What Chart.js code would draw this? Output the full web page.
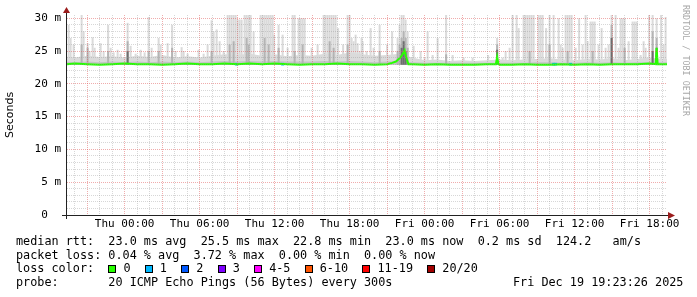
<!DOCTYPE html>
<html>
<head>
<meta charset="utf-8">
<script src="https://cdn.jsdelivr.net/npm/chart.js@4.4.1/dist/chart.umd.min.js"></script>
<style>
  html, body { margin: 0; padding: 0; background: #fff; }
  #wrap { position: relative; width: 697px; height: 297px; overflow: hidden; }
  #legend {
    position: absolute; left: 16px; top: 235px;
    font: 11.8px "DejaVu Sans Mono", monospace; line-height: 13.7px;
    white-space: pre; color: #000;
  }
  .box { display: inline-block; width: 6px; height: 6px; border: 1px solid #000; vertical-align: middle; }
  #stamp {
    position: absolute; left: 513px; top: 276px;
    font: 11.8px "DejaVu Sans Mono", monospace; line-height: 13.7px;
    white-space: pre; color: #000;
  }
  #credit {
    position: absolute; left: 681px; top: 5px;
    writing-mode: vertical-rl; line-height: 10px;
    font: 8.4px "DejaVu Sans Mono", monospace; color: #a8a8a8;
    white-space: pre;
  }
</style>
</head>
<body>
<div id="wrap">
  <canvas id="chart" width="697" height="297"></canvas>
  <div id="legend">median rtt:  23.0 ms avg  25.5 ms max  22.8 ms min  23.0 ms now  0.2 ms sd  124.2   am/s
packet loss: 0.04 % avg  3.72 % max  0.00 % min  0.00 % now
<span id="lossRow">loss color:  </span>
probe:       20 ICMP Echo Pings (56 Bytes) every 300s</div>
  <div id="stamp">Fri Dec 19 19:23:26 2025</div>
  <div id="credit">RRDTOOL / TOBI OETIKER</div>
</div>
<script>
// time axis in hours relative to Thu 00:00 (window ends Fri 19:23:26)
const xStartHour = -4.61;
const xEndHour = 43.39;
const xTickHours = [0, 6, 12, 18, 24, 30, 36, 42];
const xTickLabels = ['Thu 00:00', 'Thu 06:00', 'Thu 12:00', 'Thu 18:00',
                     'Fri 00:00', 'Fri 06:00', 'Fri 12:00', 'Fri 18:00'];

// y axis in ms
const yMax = 30.5;
const yTickValues = [0, 5, 10, 15, 20, 25, 30];
const yTickLabels = ['0  ', '5 m', '10 m', '15 m', '20 m', '25 m', '30 m'];

const lossLabels = ['0', '1', '2', '3', '4-5', '6-10', '11-19', '20/20'];
const lossColors = ['#26ff00', '#00b8ff', '#0059ff', '#7e00ff', '#ff00ff', '#ff5500', '#ff0000', '#a10000'];

// median rtt
const medianHour = [-4.61, -4, -3, -2, -1, 0, 1, 2, 3, 4, 5, 6, 7, 8, 9, 10, 11, 12, 13, 14, 15, 16, 17, 18, 19, 20, 21,
  21.4, 21.7, 22.0, 22.2, 22.4, 22.5, 22.7, 23, 24, 25, 26, 27, 28, 29, 29.7, 29.8, 29.9, 30, 31, 32, 33, 34, 35,
  36, 37, 38, 39, 40, 41, 42, 42.48, 42.56, 42.64, 43, 43.39];
const medianMs = [23.0, 23.1, 23.0, 22.9, 23.0, 23.1, 23.0, 23.0, 22.9, 23.0, 23.1, 23.0, 23.0, 23.1, 23.0, 23.1, 23.0, 23.1, 23.0, 22.9, 23.0, 23.0, 23.1, 23.0, 23.0, 22.9, 23.0,
  23.2, 23.4, 23.9, 24.4, 25.1, 24.2, 23.0, 23.0, 22.9, 23.0, 22.9, 22.9, 22.9, 23.0, 23.0, 24.1, 23.0, 22.9, 22.9, 23.0, 22.9, 22.9, 23.0,
  22.9, 23.0, 22.9, 23.0, 23.0, 23.0, 23.1, 23.0, 25.5, 23.0, 23.0, 23.0];

// pings with loss (legend level index)
const lossHour = [8.96, 12.64, 34.32, 34.48, 35.68];
const lossLevel = [1, 1, 1, 1, 1];

// smoke: min ping floor, light band above the median
const smokeFloor = 22.9;
const bandHour = [-5, -4, -3, -2, -1, 0, 1, 2, 3, 4, 5, 6, 7, 8, 9, 10, 11, 12, 13, 14, 15, 16, 17, 18, 19, 20,
  21, 22, 23, 24, 25, 26, 27, 28, 29, 30, 31, 32, 33, 34, 35, 36, 37, 38, 39, 40, 41, 42, 43, 44];
const bandTopMs = [24.2, 24.0, 24.3, 24.1, 24.2, 24.0, 24.3, 24.1, 24.4, 24.0, 24.2, 24.0, 24.3, 24.5, 24.4, 24.6,
  24.3, 24.5, 24.2, 24.4, 24.3, 24.6, 24.4, 24.8, 24.5, 24.3, 24.4, 24.6, 24.0, 23.6, 23.7, 23.5, 23.6, 23.5,
  23.6, 23.7, 23.6, 23.7, 23.8, 23.9, 23.7, 23.6, 23.8, 23.7, 23.9, 23.6, 23.8, 24.0, 23.8, 23.8];
const bandCoreMs = [23.4, 23.3, 23.4, 23.3, 23.4, 23.3, 23.4, 23.3, 23.4, 23.3, 23.4, 23.3, 23.4, 23.5, 23.4, 23.5,
  23.4, 23.5, 23.4, 23.4, 23.4, 23.5, 23.4, 23.5, 23.4, 23.3, 23.4, 23.5, 23.3, 23.2, 23.2, 23.2, 23.2, 23.2,
  23.2, 23.2, 23.2, 23.2, 23.3, 23.3, 23.2, 23.2, 23.3, 23.2, 23.3, 23.2, 23.3, 23.3, 23.3, 23.3];

// smoke spikes: highest ping of the step
const spikeHour = [-4.48, -4.32, -4.08, -3.44, -3.28, -2.96, -2.80, -2.56, -2.40, -1.92, -1.68, -1.32, -1.12, -0.88,
  -0.56, -0.32, 0.24, 0.48, 0.88, 1.28, 1.60, 1.92, 2.16, 2.72, 2.88, 3.44, 3.80, 4.08, 4.56, 4.72, 5.04, 5.92,
  6.32, 6.64, 6.96, 7.12, 7.36, 7.60, 7.92, 8.24, 8.40, 8.56, 8.72, 8.88, 9.04, 9.20, 9.36, 9.60, 9.76, 9.92,
  10.08, 10.32, 10.88, 11.04, 11.20, 11.36, 11.52, 11.68, 11.84, 11.96, 12.32, 12.64, 13.04, 13.44, 13.60,
  13.92, 14.08, 14.24, 14.40, 14.96, 15.44, 15.92, 16.08, 16.24, 16.40, 16.56, 16.72, 16.88, 17.08, 17.48,
  17.84, 18.00, 18.16, 18.32, 18.48, 18.64, 18.80, 18.96, 19.04, 19.36, 19.68, 19.92, 20.40, 21.00, 21.40,
  21.84, 22.00, 22.16, 22.32, 22.48, 22.64, 23.12, 23.68, 24.00, 24.24, 24.64, 25.04, 25.72, 26.24, 27.12,
  27.84, 29.08, 29.80, 30.24, 30.48, 30.80, 31.04, 31.36, 31.52, 31.92, 32.08, 32.24, 32.40, 32.56, 32.72,
  33.12, 33.28, 33.44, 33.72, 33.92, 34.00, 34.32, 34.72, 34.88, 35.04, 35.28, 35.44, 35.60, 35.76, 36.08,
  36.36, 36.64, 36.88, 37.04, 37.28, 37.44, 37.60, 37.92, 38.16, 38.48, 38.72, 38.96, 39.28, 39.52, 39.68,
  39.84, 40.00, 40.32, 40.64, 40.80, 40.96, 41.28, 41.52, 41.68, 41.96, 42.24, 42.56, 42.92, 43.12, 43.28];
const spikeTopMs = [29, 27, 26, 30.5, 28, 26.2, 25, 27.1, 25.5, 26.2, 25, 29, 25.5, 24.8,
  25.2, 24.6, 29.3, 25.8, 24.6, 25.2, 24.8, 30.2, 25.5, 27, 26, 26.2, 29, 25, 25.6, 25, 24.6, 25.2,
  24.6, 26, 29.7, 28, 28.3, 26.5, 25, 30.5, 30.5, 30.5, 30.5, 30.5, 29.8, 29.8, 29.8, 30.5, 30.5, 30.5,
  30.5, 28, 30.5, 30.5, 30.5, 30.5, 30.5, 30.5, 30.5, 27.5, 29, 27.5, 25.5, 30.5, 30.5,
  30, 30, 30, 30, 25.5, 26, 30.5, 30.5, 30.5, 30.5, 30.5, 30.5, 30.5, 28.5, 26,
  30.5, 30.5, 27, 26.5, 27.5, 26.2, 25, 27, 26.5, 25, 28.5, 25.5, 29, 26, 28,
  27, 29, 30.5, 30.5, 29.8, 28, 25.8, 25, 24, 28, 24.4, 27, 30.5, 24.4, 24,
  24, 24.4, 27, 24, 25, 25.5, 30.6, 30.5, 28.5, 30.5, 30.5, 30.5, 30.5, 30.5, 30.5,
  30.5, 30.5, 30.5, 28.5, 26, 30.5, 30.5, 30, 26, 25.5, 30.5, 30.5, 30.5, 30.5, 25.5,
  30, 26, 30.5, 26.5, 29.5, 29.5, 29.5, 26, 28.5, 25.5, 26, 30.6, 30.5, 25.5, 30,
  30, 30, 26.5, 29.5, 29.5, 29.5, 24.4, 26.5, 25.5, 30.6, 30.5, 30, 30.5, 26, 30.2];

// denser part of the smoke (mid grey)
const coreHour = [-3.44, -2.96, -1.32, 0.24, 1.92, 2.72, 3.80, 6.96, 8.40, 8.72, 9.76, 9.92, 11.20, 11.52, 12.32,
  13.60, 14.24, 16.40, 16.72, 17.84, 20.40, 21.84, 22.00, 22.16, 22.32, 22.48, 22.64, 25.72, 29.80, 32.40,
  34.00, 35.44, 37.44, 38.96, 40.00, 42.24, 42.56];
const coreTopMs = [26, 25.5, 25, 26.5, 25, 25, 25.5, 25, 26, 26.5, 27, 26, 27, 26, 25.5,
  25, 26, 26.5, 25.5, 26, 25, 25, 26, 27, 28, 27, 25.5, 24.5, 26, 25,
  26, 25, 25, 29, 25.5, 28, 27];

// darkest part of the smoke
const darkHour = [0.24, 22.16, 22.32, 22.48, 29.80, 38.96, 42.24, 42.56];
const darkTopMs = [25, 25.5, 26.5, 25, 25.2, 27, 25, 25.5];

const minorGrid = 'rgba(150,150,150,0.38)';
const majorGrid = 'rgba(225,90,90,0.5)';
const tickFont = { family: 'DejaVu Sans Mono', size: 11 };

// legend colour boxes
const lossRow = document.getElementById('lossRow');
lossLabels.forEach((lab, i) => {
  const b = document.createElement('span');
  b.className = 'box';
  b.style.background = lossColors[i];
  lossRow.appendChild(b);
  lossRow.appendChild(document.createTextNode(' ' + lab + '  '));
});

const pts = (xs, ys) => xs.map((x, i) => ({ x: x, y: ys[i] }));
const bars = (xs, tops) => xs.map((x, i) => ({ x: x, y: [smokeFloor, tops[i]] }));

// axis lines with arrows, drawn on top like rrdtool does
const axisArrows = {
  id: 'axisArrows',
  afterDraw(chart) {
    const { ctx, chartArea: a } = chart;
    const yb = Math.round(a.bottom) + 0.5;
    const xl = Math.round(a.left) - 0.5;
    ctx.save();
    ctx.strokeStyle = '#222';
    ctx.lineWidth = 1;
    ctx.beginPath();
    ctx.moveTo(a.left - 5, yb);
    ctx.lineTo(a.right + 3, yb);
    ctx.moveTo(xl, a.bottom + 4);
    ctx.lineTo(xl, a.top - 4);
    ctx.stroke();
    ctx.fillStyle = '#9b1c1c';
    ctx.beginPath();
    ctx.moveTo(a.right + 8, yb);
    ctx.lineTo(a.right + 1, yb - 3.5);
    ctx.lineTo(a.right + 1, yb + 3.5);
    ctx.closePath();
    ctx.fill();
    ctx.beginPath();
    ctx.moveTo(xl, a.top - 8);
    ctx.lineTo(xl - 3.5, a.top - 2);
    ctx.lineTo(xl + 3.5, a.top - 2);
    ctx.closePath();
    ctx.fill();
    ctx.restore();
  }
};

const smokeBar = {
  type: 'bar',
  stack: 'smoke',
  barThickness: 2,
  borderWidth: 0,
  inflateAmount: 0
};

new Chart(document.getElementById('chart'), {
  type: 'line',
  data: {
    datasets: [
      {
        label: 'median rtt',
        data: pts(medianHour, medianMs),
        borderColor: lossColors[0],
        borderWidth: 2,
        pointRadius: 0,
        fill: false,
        order: 0
      },
      Object.assign({}, smokeBar, {
        label: 'loss',
        data: lossHour.map((x) => ({ x: x, y: [22.8, 23.2] })),
        backgroundColor: lossLevel.map((l) => lossColors[l]),
        barThickness: 3,
        order: 1
      }),
      Object.assign({}, smokeBar, {
        label: 'dark smoke',
        data: bars(darkHour, darkTopMs),
        backgroundColor: '#6e6e6e',
        order: 2
      }),
      Object.assign({}, smokeBar, {
        label: 'mid smoke',
        data: bars(coreHour, coreTopMs),
        backgroundColor: '#b4b4b4',
        order: 3
      }),
      {
        label: 'band core',
        data: pts(bandHour, bandCoreMs),
        borderWidth: 0,
        pointRadius: 0,
        backgroundColor: '#c4c4c4',
        fill: { value: smokeFloor },
        order: 4
      },
      Object.assign({}, smokeBar, {
        label: 'light smoke',
        data: bars(spikeHour, spikeTopMs),
        backgroundColor: '#dadada',
        order: 5
      }),
      {
        label: 'band',
        data: pts(bandHour, bandTopMs),
        borderWidth: 0,
        pointRadius: 0,
        backgroundColor: '#dadada',
        fill: { value: smokeFloor },
        order: 6
      }
    ]
  },
  options: {
    responsive: false,
    animation: false,
    layout: { padding: { left: 0, top: 15, right: 30, bottom: 0 } },
    plugins: { legend: { display: false }, tooltip: { enabled: false } },
    scales: {
      x: {
        type: 'linear',
        offset: false,
        min: xStartHour,
        max: xEndHour,
        afterBuildTicks: (s) => {
          const t = [];
          for (let h = Math.ceil(xStartHour); h <= xEndHour; h++) t.push({ value: h });
          s.ticks = t;
        },
        afterFit: (s) => { s.height = 82; },
        grid: {
          z: 1,
          offset: false,
          drawTicks: false,
          color: (c) => (c.tick && c.tick.value % 3 === 0 ? majorGrid : minorGrid)
        },
        border: { display: false, dash: [1, 1] },
        ticks: {
          autoSkip: false,
          maxRotation: 0,
          minRotation: 0,
          padding: 3,
          color: '#000',
          font: tickFont,
          callback: (v) => {
            const i = xTickHours.indexOf(v);
            return i < 0 ? '' : xTickLabels[i];
          }
        }
      },
      y: {
        type: 'linear',
        min: 0,
        max: yMax,
        stacked: false,
        afterBuildTicks: (s) => {
          const t = [];
          for (let v = 0; v <= 30; v++) t.push({ value: v });
          s.ticks = t;
        },
        afterFit: (s) => { s.width = 67; },
        grid: {
          z: 1,
          drawTicks: false,
          color: (c) => (c.tick && c.tick.value % 5 === 0 ? majorGrid : minorGrid)
        },
        border: { display: false, dash: [1, 1] },
        title: {
          display: true,
          text: 'Seconds',
          color: '#000',
          font: { family: 'DejaVu Sans', size: 11 },
          padding: { top: 4, bottom: 0 }
        },
        ticks: {
          autoSkip: false,
          padding: 6,
          color: '#000',
          font: tickFont,
          callback: (v) => {
            const i = yTickValues.indexOf(v);
            return i < 0 ? '' : yTickLabels[i];
          }
        }
      }
    }
  },
  plugins: [axisArrows]
});
</script>
</body>
</html>
